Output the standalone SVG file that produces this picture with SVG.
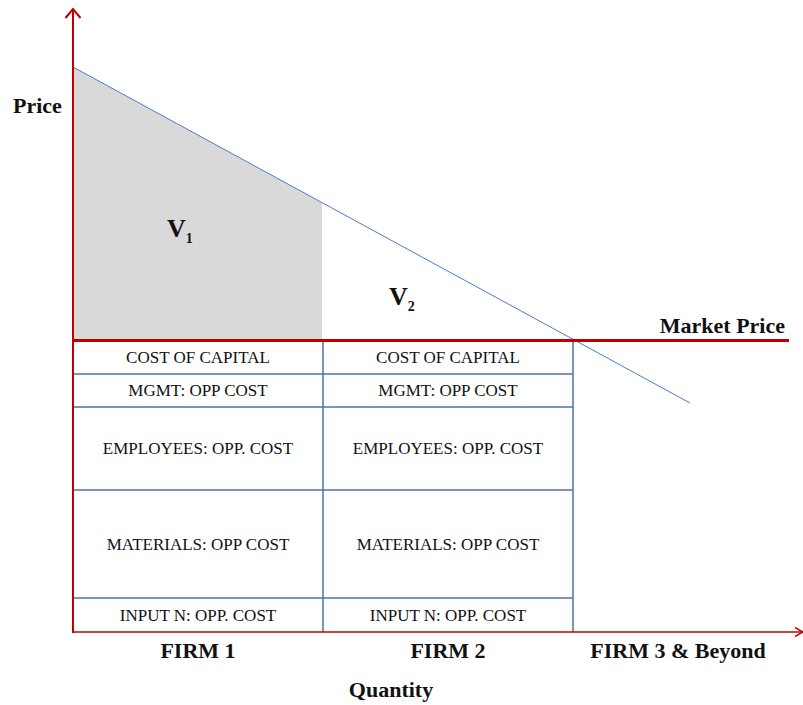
<svg xmlns="http://www.w3.org/2000/svg" width="803" height="705" viewBox="0 0 803 705">
  <style>
    .axis { stroke: #c00000; fill: none; }
    .grid { stroke: #50709f; stroke-width: 1.5; fill: none; }
    .cell { font-family: "Liberation Serif", "Times New Roman", serif; font-size: 17px; fill: #111; text-anchor: middle; }
    .lbl { font-family: "Liberation Serif", "Times New Roman", serif; font-size: 22px; font-weight: bold; fill: #111; }
    .mid { text-anchor: middle; }
    .v { font-family: "Liberation Serif", "Times New Roman", serif; font-size: 26px; font-weight: bold; fill: #111; }
    .sub { font-size: 14px; }
  </style>
  <defs>
    <marker id="openArrow" viewBox="0 0 10 10" refX="9" refY="5" markerWidth="10" markerHeight="10" markerUnits="userSpaceOnUse" orient="auto">
      <path d="M1,0.5 L9,5 L1,9.5" fill="none" stroke="#c00000" stroke-width="1.5"/>
    </marker>
    <marker id="openArrowY" viewBox="0 0 12 20" refX="10" refY="10" markerWidth="12" markerHeight="20" markerUnits="userSpaceOnUse" orient="auto">
      <path d="M1,2.5 L10,10 L1,17.5" fill="none" stroke="#c00000" stroke-width="2"/>
    </marker>
  </defs>

  <!-- surplus area of firm 1 -->
  <polygon id="surplus-v1" points="73,67 322,202.6 322,340 73,340" fill="#d9d9d9"/>

  <!-- demand curve -->
  <line id="demand" x1="73" y1="67" x2="690" y2="403" stroke="#4a7cc9" stroke-width="1"/>

  <!-- cost table grid -->
  <g id="cost-table" class="grid">
    <line x1="323" y1="340" x2="323" y2="632"/>
    <line x1="573" y1="340" x2="573" y2="632"/>
    <line x1="73" y1="374" x2="573" y2="374"/>
    <line x1="73" y1="407" x2="573" y2="407"/>
    <line x1="73" y1="490" x2="573" y2="490"/>
    <line x1="73" y1="598" x2="573" y2="598"/>
  </g>

  <!-- axes and market price line -->
  <g id="axes">
    <line class="axis" x1="73" y1="633" x2="73" y2="9" stroke-width="2" marker-end="url(#openArrowY)"/>
    <line class="axis" x1="72" y1="632" x2="803" y2="632" stroke-width="1.5" marker-end="url(#openArrow)"/>
    <line id="market-price" class="axis" x1="73" y1="340.5" x2="789" y2="340.5" stroke-width="3"/>
  </g>

  <!-- firm 1 cost column -->
  <g id="firm1-costs">
    <text class="cell" x="198" y="363">COST OF CAPITAL</text>
    <text class="cell" x="198" y="396">MGMT: OPP COST</text>
    <text class="cell" x="198" y="454">EMPLOYEES: OPP. COST</text>
    <text class="cell" x="198" y="550">MATERIALS: OPP COST</text>
    <text class="cell" x="198" y="621">INPUT N: OPP. COST</text>
  </g>

  <!-- firm 2 cost column -->
  <g id="firm2-costs">
    <text class="cell" x="448" y="363">COST OF CAPITAL</text>
    <text class="cell" x="448" y="396">MGMT: OPP COST</text>
    <text class="cell" x="448" y="454">EMPLOYEES: OPP. COST</text>
    <text class="cell" x="448" y="550">MATERIALS: OPP COST</text>
    <text class="cell" x="448" y="621">INPUT N: OPP. COST</text>
  </g>

  <!-- value labels -->
  <g id="value-labels">
    <text class="v" x="167" y="237">V<tspan class="sub" dy="6">1</tspan></text>
    <text class="v" x="389" y="305">V<tspan class="sub" dy="6">2</tspan></text>
  </g>

  <!-- axis and firm labels -->
  <g id="labels">
    <text class="lbl" x="13" y="113">Price</text>
    <text class="lbl" x="785" y="333" text-anchor="end">Market Price</text>
    <text class="lbl mid" x="198" y="658">FIRM 1</text>
    <text class="lbl mid" x="448" y="658">FIRM 2</text>
    <text class="lbl mid" x="678" y="658">FIRM 3 &amp; Beyond</text>
    <text class="lbl mid" x="391" y="697">Quantity</text>
  </g>
</svg>
